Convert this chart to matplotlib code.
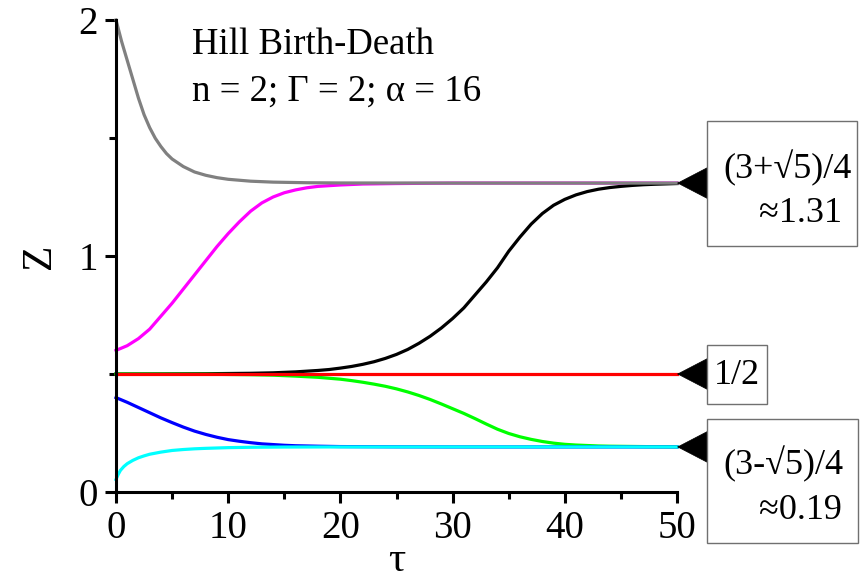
import numpy as np
import matplotlib.pyplot as plt
from matplotlib.patches import Rectangle

plt.rcParams['font.family'] = ['Liberation Serif', 'DejaVu Serif']

# trajectories Z(tau) of the Hill birth-death model, read at sample times
t_gray = [0, 0.5, 1, 1.5, 2, 2.5, 3, 3.5, 4, 4.5, 5, 6, 7, 8, 9, 10, 12, 14, 17, 20, 30, 50]
z_gray = [2.0, 1.909, 1.829, 1.749, 1.669, 1.599, 1.544, 1.499, 1.464, 1.434, 1.411, 1.379,
          1.356, 1.342, 1.332, 1.325, 1.317, 1.313, 1.3105, 1.3095, 1.309, 1.309]

t_magenta = [0, 1, 2, 3, 4, 5, 6, 7, 8, 9, 10, 11, 12, 13, 14, 15, 16, 17, 18, 20, 22, 25, 30, 50]
z_magenta = [0.60, 0.62, 0.65, 0.69, 0.745, 0.80, 0.86, 0.92, 0.98, 1.04, 1.095, 1.145, 1.19,
             1.225, 1.25, 1.268, 1.28, 1.289, 1.295, 1.301, 1.305, 1.307, 1.309, 1.309]

t_black = [0, 4, 8, 12, 14, 16, 18, 19, 20, 21, 22, 23, 24, 25, 26, 27, 28, 29, 30, 31, 32, 33,
           34, 35, 36, 37, 38, 39, 40, 41, 42, 43, 44, 45, 46, 47, 48, 50]
z_black = [0.5002, 0.5005, 0.5012, 0.503, 0.505, 0.509, 0.515, 0.519, 0.525, 0.532, 0.541, 0.552,
           0.566, 0.583, 0.604, 0.630, 0.660, 0.695, 0.735, 0.78, 0.835, 0.89, 0.95, 1.02, 1.08,
           1.135, 1.18, 1.215, 1.24, 1.259, 1.273, 1.283, 1.290, 1.295, 1.299, 1.302, 1.304, 1.307]

t_red = [0, 50]
z_red = [0.5, 0.5]

t_green = [0, 8, 12, 14, 16, 18, 19, 20, 21, 22, 23, 24, 25, 26, 27, 28, 29, 30, 31, 32, 33, 34,
           35, 36, 37, 38, 39, 40, 41, 42, 43, 44, 46, 48, 50]
z_green = [0.4998, 0.499, 0.497, 0.495, 0.491, 0.486, 0.482, 0.478, 0.472, 0.465, 0.457, 0.448,
           0.437, 0.424, 0.409, 0.392, 0.373, 0.353, 0.333, 0.311, 0.288, 0.266, 0.248, 0.234,
           0.223, 0.214, 0.207, 0.202, 0.199, 0.197, 0.195, 0.194, 0.193, 0.192, 0.1915]

t_blue = [0, 1, 2, 3, 4, 5, 6, 7, 8, 9, 10, 11, 12, 13, 14, 15, 16, 18, 20, 25, 30, 50]
z_blue = [0.400, 0.380, 0.358, 0.336, 0.314, 0.294, 0.275, 0.258, 0.244, 0.232, 0.222, 0.215,
          0.209, 0.204, 0.201, 0.198, 0.196, 0.194, 0.1925, 0.1915, 0.191, 0.191]

t_cyan = [0, 0.2, 0.4, 0.7, 1, 1.5, 2, 2.5, 3, 4, 5, 6, 7, 8, 10, 12, 15, 20, 50]
z_cyan = [0.053, 0.075, 0.092, 0.108, 0.12, 0.134, 0.145, 0.153, 0.160, 0.169, 0.176, 0.180,
          0.183, 0.185, 0.188, 0.1895, 0.1905, 0.191, 0.191]

# fixed points and their labels
fixed_z = [1.309, 0.5, 0.191]
fixed_line1 = ['(3+\u221a5)/4', '1/2', '(3-\u221a5)/4']
fixed_line2 = ['\u22481.31', '', '\u22480.19']

W, H = 860, 579
fig = plt.figure(figsize=(W / 100, H / 100), dpi=100)
ax = fig.add_axes([116 / W, 1 - 492 / H, 561 / W, 472 / H])

lw = 2.3
ax.plot(t_magenta, z_magenta, color='#ff00ff', lw=lw, clip_on=False)
ax.plot(t_black, z_black, color='black', lw=lw, clip_on=False)
ax.plot(t_gray, z_gray, color='#808080', lw=lw, clip_on=False)
ax.plot(t_green, z_green, color='#00ff00', lw=lw, clip_on=False)
ax.plot(t_blue, z_blue, color='#0000ff', lw=lw, clip_on=False)
ax.plot(t_red, z_red, color='#ff0000', lw=lw, clip_on=False)
ax.plot(t_cyan, z_cyan, color='#00ffff', lw=lw, clip_on=False)

ax.set_xlim(0, 50)
ax.set_ylim(0, 2)
ax.set_xticks([0, 10, 20, 30, 40, 50])
ax.set_xticks([5, 15, 25, 35, 45], minor=True)
ax.set_yticks([0, 1, 2])
ax.set_yticks([0.5, 1.5], minor=True)
for s in ['top', 'right']:
    ax.spines[s].set_visible(False)
for s in ['left', 'bottom']:
    ax.spines[s].set_linewidth(2.2)
ax.tick_params(which='major', direction='out', length=8, width=2.2, labelsize=28, pad=5)
ax.tick_params(which='minor', direction='out', length=5, width=2.2)
ax.set_xlabel('\u03c4', fontsize=31, labelpad=-4)
ax.set_ylabel('Z', fontsize=30, labelpad=14)

ax.text(0.136, 0.985, 'Hill Birth-Death', transform=ax.transAxes, fontsize=26.5, va='top')
ax.text(0.136, 0.885, 'n = 2; \u0393 = 2; \u03b1 = 16', transform=ax.transAxes, fontsize=26.5, va='top')

# arrowheads pointing at the fixed points
for z in fixed_z:
    ax.annotate('', xy=(50, z), xycoords='data', xytext=(21.5, 0), textcoords='offset points',
                annotation_clip=False,
                arrowprops=dict(arrowstyle='-|>,head_length=1.0,head_width=0.52', mutation_scale=21.5,
                                fc='black', ec='black', lw=0.5, shrinkA=0, shrinkB=0))

# label boxes (figure pixel positions)
boxes = [(707, 121, 857, 246), (707, 345, 767, 404), (707, 419, 858, 543)]
for (x0, y0, x1, y1) in boxes:
    fig.add_artist(Rectangle((x0 / W, 1 - y1 / H), (x1 - x0) / W, (y1 - y0) / H,
                             transform=fig.transFigure, fill=False, ec='#707070', lw=1.0))

fs_box = 26
fig.text(723 / W, 1 - 178 / H, fixed_line1[0], fontsize=fs_box)
fig.text(759 / W, 1 - 222 / H, fixed_line2[0], fontsize=fs_box)
fig.text(737 / W, 1 - 375 / H, fixed_line1[1], fontsize=fs_box, ha='center', va='center')
fig.text(723 / W, 1 - 474 / H, fixed_line1[2], fontsize=fs_box)
fig.text(759 / W, 1 - 519 / H, fixed_line2[2], fontsize=fs_box)

fig.savefig('out.png', dpi=100)
